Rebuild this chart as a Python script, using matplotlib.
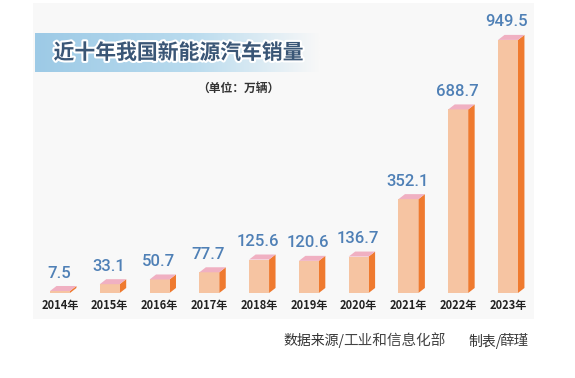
import numpy as np
import matplotlib
matplotlib.use("Agg")
import matplotlib.pyplot as plt
from matplotlib.patches import Polygon, Rectangle
from matplotlib.colors import LinearSegmentedColormap
import matplotlib.patheffects as pe

plt.rcParams['font.family'] = ['Noto Sans CJK SC', 'DejaVu Sans']

# data: China new-energy vehicle sales (10k units)
years = ['2014年', '2015年', '2016年', '2017年', '2018年',
         '2019年', '2020年', '2021年', '2022年', '2023年']
sales = [7.5, 33.1, 50.7, 77.7, 125.6, 120.6, 136.7, 352.1, 688.7, 949.5]
value_labels = ['7.5', '33.1', '50.7', '77.7', '125.6',
                '120.6', '136.7', '352.1', '688.7', '949.5']

W, H = 575, 378
fig = plt.figure(figsize=(W / 100, H / 100), dpi=100)
fig.patch.set_facecolor('white')

# light panel behind everything
fig.patches.append(Rectangle((33 / W, 1 - 319 / H), 501 / W, 316 / H,
                             transform=fig.transFigure, facecolor='#f8f8f8',
                             edgecolor='none', zorder=-10))

# title banner with gradient
bax = fig.add_axes([35 / W, 1 - 72 / H, 285 / W, 39 / H])
grad_cmap = LinearSegmentedColormap.from_list(
    'banner', [(0, '#9dcae6'), (0.55, '#b9dbee'), (1.0, '#f8f8f8')])
bax.imshow(np.linspace(0, 1, 256)[None, :], aspect='auto', cmap=grad_cmap,
           extent=[0, 1, 0, 1])
bax.set_axis_off()
bax.text(0.065, 0.5, '近十年我国新能源汽车销量', fontsize=15, fontweight='bold',
         color='#3a5676', va='center', ha='left', transform=bax.transAxes,
         path_effects=[pe.withStroke(linewidth=3, foreground='white')])

fig.text(238 / W, 1 - 88 / H, '（单位：万辆）', fontsize=8.5, fontweight='bold',
         color='#333333', ha='center', va='center')

# bar chart axes
ax = fig.add_axes([35.1 / W, 85 / H, 497.8 / W, 293.2 / H])
ax.set_xlim(-0.5, 9.5)
ax.set_ylim(0, 1100)
ax.set_axis_off()
ax.patch.set_alpha(0)

bw = 0.40     # front face width
dx = 0.13     # depth offset (x)
dy = 18.8     # depth offset (y)
front_c = '#f6c4a2'
side_c = '#ef7a2f'
top_c = '#f0b0c2'

x = np.arange(len(years))
ax.bar(x, sales, width=bw, color=front_c, edgecolor='none', zorder=3)
for xi, v in zip(x, sales):
    xl, xr = xi - bw / 2, xi + bw / 2
    ax.add_patch(Polygon([(xr, 0), (xr + dx, dy), (xr + dx, v + dy), (xr, v)],
                         closed=True, facecolor=side_c, edgecolor='none', zorder=2))
    ax.add_patch(Polygon([(xl, v), (xr, v), (xr + dx, v + dy), (xl + dx, v + dy)],
                         closed=True, facecolor=top_c, edgecolor='none', zorder=4))

for xi, v, lab in zip(x, sales, value_labels):
    ax.annotate(lab, xy=(xi, v), xytext=(-1, 18), textcoords='offset pixels',
                ha='center', va='center', fontsize=12, color='#4f80b6',
                family='Roboto', fontweight='medium', annotation_clip=False)

for xi, lab in zip(x, years):
    ax.annotate(lab, xy=(xi, 0), xytext=(0, -13), textcoords='offset pixels',
                ha='center', va='center', fontsize=8, fontweight='bold',
                color='#222222', annotation_clip=False)

# source line
fig.text(283 / W, 1 - 341 / H, '数据来源/', fontsize=10, color='#333333',
         ha='left', va='center')
fig.text(343 / W, 1 - 341 / H, '工业和信息化部', fontsize=10.5, color='#444444',
         fontweight='light', ha='left', va='center')
fig.text(468 / W, 1 - 341 / H, '制表/', fontsize=10, color='#333333',
         ha='left', va='center')
fig.text(499 / W, 1 - 341 / H, '薛瑾', fontsize=10.5, color='#444444',
         fontweight='light', ha='left', va='center')

fig.savefig('out.png', dpi=100)
